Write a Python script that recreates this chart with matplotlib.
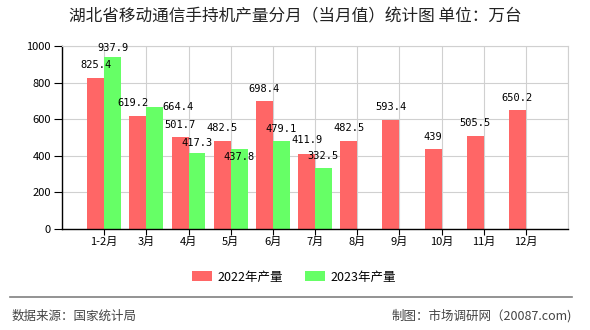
import matplotlib
matplotlib.use("Agg")
import numpy as np
from matplotlib import pyplot as plt

plt.rcParams["font.family"] = ["Noto Sans CJK SC", "DejaVu Sans"]

months = ["1-2月", "3月", "4月", "5月", "6月", "7月", "8月", "9月", "10月", "11月", "12月"]
output_2022 = [825.4, 619.2, 501.7, 482.5, 698.4, 411.9, 482.5, 593.4, 439, 505.5, 650.2]
output_2023 = [937.9, 664.4, 417.3, 437.8, 479.1, 332.5]
label_2022 = ["825.4", "619.2", "501.7", "482.5", "698.4", "411.9", "482.5", "593.4", "439", "505.5", "650.2"]
label_2023 = ["937.9", "664.4", "417.3", "437.8", "479.1", "332.5"]

# label nudges in pixels, so the green labels don't collide with the red ones
shift_2022 = [(0, 13), (-5, 13), (0, 12), (0, 13), (0, 12), (0, 14),
              (0, 13), (0, 13), (0, 12), (0, 13), (0, 12)]
shift_2023 = [(0, 9), (23, 0), (0, 10), (0, -8), (0, 12), (0, 12)]

red = "#ff6666"
green = "#66ff66"

fig = plt.figure(figsize=(5.9, 3.3), dpi=100)
ax = fig.add_axes([62 / 590, 1 - 229 / 330, 506 / 590, 183 / 330])

x = np.arange(1, len(months) + 1)
x23 = x[:len(output_2023)]
w = 0.4
ax.bar(x - w / 2, output_2022, width=w, color=red, label="2022年产量", zorder=2)
ax.bar(x23 + w / 2, output_2023, width=w, color=green, label="2023年产量", zorder=2)

for xi, v, s, (dx, dy) in zip(x - w / 2, output_2022, label_2022, shift_2022):
    ax.annotate(s, (xi, v), xytext=(dx, dy), textcoords="offset pixels",
                ha="center", va="center", fontsize=7.5, color="#000000", zorder=4,
                family="DejaVu Sans Mono")
for xi, v, s, (dx, dy) in zip(x23 + w / 2, output_2023, label_2023, shift_2023):
    ax.annotate(s, (xi, v), xytext=(dx, dy), textcoords="offset pixels",
                ha="center", va="center", fontsize=7.5, color="#000000", zorder=4,
                family="DejaVu Sans Mono")

ax.set_xlim(0, 12)
ax.set_ylim(0, 1000)
ax.set_yticks(range(0, 1001, 200))
ax.set_xticks(x)
ax.set_xticklabels(months)
ax.set_xticks(np.arange(0, 13), minor=True)
ax.tick_params(axis="x", which="major", length=4, width=0.8, labelsize=8, pad=2)
ax.tick_params(axis="x", which="minor", length=0)
ax.tick_params(axis="y", length=6, width=0.8, labelsize=8, pad=2)
ax.grid(True, which="major", axis="both", color="#d0d0d0", linewidth=0.8, zorder=0)
ax.grid(True, which="minor", axis="x", color="#d0d0d0", linewidth=0.8, zorder=0)
for side in ("top", "right"):
    ax.spines[side].set_color("#d0d0d0")
for side in ("left", "bottom"):
    ax.spines[side].set_color("#000000")
    ax.spines[side].set_linewidth(1)

fig.text(0.5, 1 - 17 / 330, "湖北省移动通信手持机产量分月（当月值）统计图 单位：万台",
         ha="center", va="center", fontsize=12, color="#222222")

ax.legend(loc="center", bbox_to_anchor=(294 / 590, 1 - 277 / 330),
          bbox_transform=fig.transFigure, ncol=2, frameon=False, fontsize=9,
          handlelength=1.6, handleheight=0.8, columnspacing=1.8, handletextpad=0.4)

fig.add_artist(plt.Line2D([10 / 590, 572 / 590], [1 - 297 / 330] * 2,
                          color="#808080", linewidth=1.2))
fig.text(12 / 590, 1 - 316 / 330, "数据来源：国家统计局", ha="left", va="center",
         fontsize=9, color="#444444")
fig.text(572 / 590, 1 - 316 / 330, "制图：市场调研网（20087.com)", ha="right", va="center",
         fontsize=9, color="#444444")

fig.savefig("out.png", dpi=100)
